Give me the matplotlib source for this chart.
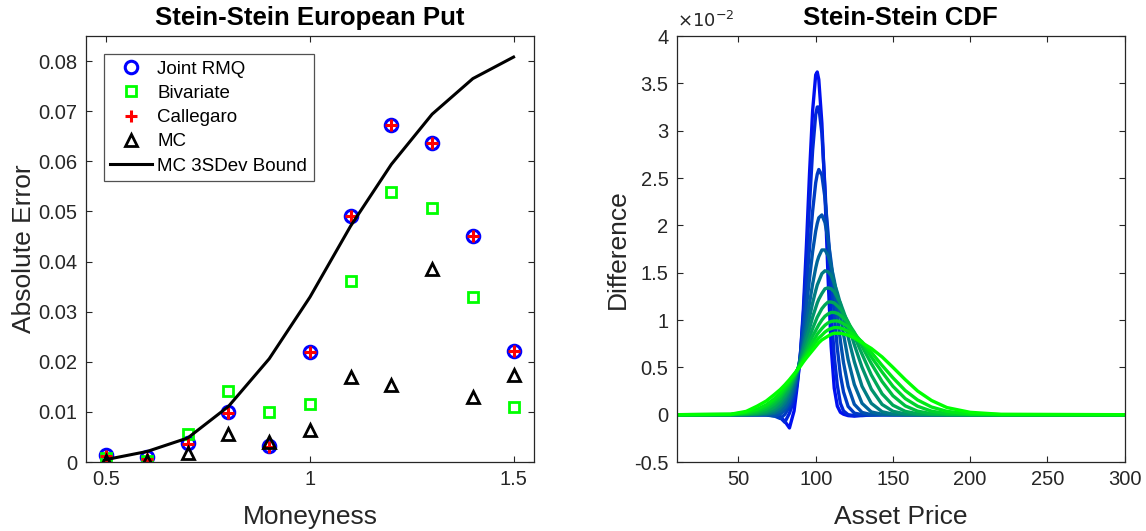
import matplotlib.pyplot as plt
import numpy as np

# ---- left panel: pricing errors against moneyness
moneyness = [0.5, 0.6, 0.7, 0.8, 0.9, 1.0, 1.1, 1.2, 1.3, 1.4, 1.5]
joint_rmq = [0.00146, 0.0011, 0.0037, 0.0100, 0.0031, 0.0219, 0.0490, 0.0672, 0.0637, 0.0451, 0.0222]
bivariate = [0.0008, 0.0002, 0.0055, 0.0141, 0.0100, 0.0116, 0.0362, 0.0538, 0.0506, 0.0329, 0.0110]
callegaro = [0.0013, 0.0007, 0.0035, 0.0098, 0.0030, 0.0219, 0.0490, 0.0672, 0.0637, 0.0451, 0.0222]
mc = [0.0003, 0.0003, 0.0019, 0.0056, 0.0039, 0.0063, 0.0169, 0.0153, 0.0385, 0.0129, 0.0174]
mc_bound = [0.0005, 0.0021, 0.0048, 0.0111, 0.0206, 0.0329, 0.0471, 0.0594, 0.0694, 0.0765, 0.0808]

# ---- right panel: CDF differences (units of 1e-2), one list per curve
asset_price = [10, 45, 55, 62, 68, 73, 77, 80, 83, 86, 88, 90, 92, 94, 96, 98, 100, 101, 102, 104,
               106, 108, 110, 112, 114, 116, 118, 121, 125, 130, 136, 143, 150, 158, 166, 175, 185, 200, 220, 300]
diff_01 = [0, 0, 0, 0, 0, 0, -0.02, -0.07, -0.14, 0.04, 0.30, 0.61, 1.11, 1.79, 2.55, 3.21, 3.59, 3.62, 3.54, 3.08,
           2.33, 1.45, 0.72, 0.28, 0.09, 0.025, 0.005, -0.01, -0.015, -0.005, 0, 0, 0, 0, 0, 0, 0, 0, 0, 0]
diff_02 = [0, 0, 0, 0, 0, -0.005, -0.03, -0.08, 0.015, 0.16, 0.33, 0.62, 1.05, 1.61, 2.23, 2.79, 3.17, 3.25, 3.25, 2.97,
           2.40, 1.72, 1.09, 0.62, 0.31, 0.12, 0.04, 0.0, -0.01, -0.01, -0.003, 0, 0, 0, 0, 0, 0, 0, 0, 0]
diff_03 = [0, 0, 0, 0, 0, -0.012, -0.04, 0.003, 0.08, 0.215, 0.38, 0.62, 0.95, 1.34, 1.76, 2.15, 2.45, 2.54, 2.59, 2.53,
           2.29, 1.92, 1.48, 1.06, 0.70, 0.42, 0.24, 0.087, 0.017, 0, -0.003, 0, 0, 0, 0, 0, 0, 0, 0, 0]
diff_04 = [0, 0, 0, 0, -0.003, -0.015, 0.006, 0.049, 0.12, 0.26, 0.41, 0.61, 0.86, 1.14, 1.44, 1.72, 1.94, 2.02, 2.08, 2.11,
           2.03, 1.85, 1.61, 1.33, 1.04, 0.78, 0.55, 0.30, 0.11, 0.024, 0, 0, 0, 0, 0, 0, 0, 0, 0, 0]
diff_05 = [0, 0, 0, 0, 0.002, 0.012, 0.037, 0.082, 0.16, 0.30, 0.42, 0.58, 0.76, 0.97, 1.18, 1.38, 1.55, 1.62, 1.67, 1.74,
           1.74, 1.68, 1.57, 1.42, 1.24, 1.04, 0.85, 0.58, 0.32, 0.12, 0.029, 0.004, 0, 0, 0, 0, 0, 0, 0, 0]
diff_06 = [0, 0, 0, 0.001, 0.008, 0.028, 0.069, 0.125, 0.21, 0.34, 0.45, 0.58, 0.72, 0.87, 1.03, 1.18, 1.31, 1.37, 1.41, 1.49,
           1.52, 1.51, 1.47, 1.39, 1.29, 1.17, 1.03, 0.82, 0.56, 0.30, 0.12, 0.031, 0.006, 0, 0, 0, 0, 0, 0, 0]
diff_07 = [0, 0, 0.001, 0.005, 0.019, 0.051, 0.10, 0.166, 0.25, 0.37, 0.46, 0.57, 0.68, 0.80, 0.91, 1.03, 1.13, 1.18, 1.22, 1.28,
           1.33, 1.34, 1.33, 1.30, 1.24, 1.18, 1.09, 0.95, 0.74, 0.50, 0.27, 0.108, 0.036, 0.008, 0.001, 0, 0, 0, 0, 0]
diff_08 = [0, 0, 0.003, 0.012, 0.035, 0.077, 0.136, 0.20, 0.28, 0.38, 0.46, 0.545, 0.63, 0.73, 0.82, 0.91, 0.99, 1.03, 1.06, 1.12,
           1.16, 1.19, 1.19, 1.18, 1.15, 1.12, 1.07, 0.98, 0.83, 0.64, 0.42, 0.22, 0.10, 0.035, 0.010, 0.002, 0, 0, 0, 0]
diff_09 = [0, 0.001, 0.008, 0.024, 0.058, 0.11, 0.17, 0.24, 0.31, 0.40, 0.47, 0.54, 0.61, 0.68, 0.76, 0.83, 0.89, 0.92, 0.95, 1.00,
           1.04, 1.065, 1.08, 1.08, 1.07, 1.05, 1.02, 0.97, 0.87, 0.72, 0.54, 0.35, 0.20, 0.093, 0.037, 0.011, 0.002, 0, 0, 0]
diff_10 = [0, 0.002, 0.015, 0.040, 0.082, 0.14, 0.20, 0.265, 0.335, 0.41, 0.47, 0.53, 0.59, 0.65, 0.71, 0.77, 0.82, 0.85, 0.87, 0.91,
           0.945, 0.97, 0.985, 0.99, 0.99, 0.98, 0.96, 0.93, 0.86, 0.76, 0.61, 0.45, 0.30, 0.17, 0.089, 0.037, 0.012, 0.002, 0, 0]
diff_11 = [0, 0.003, 0.025, 0.057, 0.105, 0.166, 0.23, 0.29, 0.35, 0.42, 0.47, 0.52, 0.575, 0.625, 0.675, 0.72, 0.77, 0.79, 0.81, 0.84,
           0.873, 0.896, 0.91, 0.92, 0.92, 0.915, 0.905, 0.88, 0.84, 0.77, 0.66, 0.52, 0.39, 0.255, 0.155, 0.081, 0.035, 0.008, 0.001, 0]
diff_12 = [0, 0.005, 0.035, 0.09, 0.145, 0.21, 0.265, 0.315, 0.37, 0.43, 0.47, 0.51, 0.557, 0.60, 0.64, 0.68, 0.72, 0.74, 0.76, 0.79,
           0.81, 0.83, 0.85, 0.86, 0.86, 0.86, 0.853, 0.84, 0.81, 0.76, 0.70, 0.61, 0.50, 0.37, 0.25, 0.15, 0.075, 0.025, 0.004, 0]
cdf_diffs = [diff_01, diff_02, diff_03, diff_04, diff_05, diff_06,
             diff_07, diff_08, diff_09, diff_10, diff_11, diff_12]

plt.rcParams['font.family'] = ['Liberation Sans', 'DejaVu Sans']
plt.rcParams['axes.unicode_minus'] = False

AX_COL = (0.15, 0.15, 0.15)


def style_axes(ax):
    for sp in ax.spines.values():
        sp.set_color(AX_COL)
        sp.set_linewidth(0.9)
    ax.tick_params(direction='in', length=4, width=0.8, top=True, right=True,
                   colors=AX_COL, labelsize=14.5, labelcolor=AX_COL, pad=6)


fig = plt.figure(figsize=(11.46, 5.31), dpi=100)

# left panel
ax1 = fig.add_axes([0.0750, 0.1299, 0.3909, 0.8023])
ax1.plot(moneyness, joint_rmq, 'o', ls='none', mfc='none', mec='#0000ff', ms=9, mew=2.2, label='Joint RMQ')
ax1.plot(moneyness, bivariate, 's', ls='none', mfc='none', mec='#00ff00', ms=7.5, mew=2.0, label='Bivariate')
ax1.plot(moneyness, callegaro, '+', ls='none', color='#ff0000', ms=9, mew=2.2, label='Callegaro')
ax1.plot(moneyness, mc, '^', ls='none', mfc='none', mec='black', ms=9, mew=2.0, label='MC')
ax1.plot(moneyness, mc_bound, '-', color='black', lw=2.2, label='MC 3SDev Bound')
ax1.set_xlim(0.45, 1.55)
ax1.set_ylim(0, 0.085)
ax1.set_xticks([0.5, 1, 1.5])
ax1.set_xticklabels(['0.5', '1', '1.5'])
ax1.set_yticks([0, 0.01, 0.02, 0.03, 0.04, 0.05, 0.06, 0.07, 0.08])
ax1.set_yticklabels(['0', '0.01', '0.02', '0.03', '0.04', '0.05', '0.06', '0.07', '0.08'])
style_axes(ax1)
ax1.set_title('Stein-Stein European Put', fontsize=18.5, fontweight='bold', pad=8)
ax1.set_xlabel('Moneyness', fontsize=19, color=AX_COL, labelpad=11)
ax1.set_ylabel('Absolute Error', fontsize=19, color=AX_COL, labelpad=2)
leg = ax1.legend(loc='upper left', bbox_to_anchor=(0.04, 0.958), borderaxespad=0,
                 fontsize=13.5, frameon=True, fancybox=False, edgecolor=AX_COL,
                 handlelength=2.2, handletextpad=0.3, labelspacing=0.38, borderpad=0.35)
leg.get_frame().set_linewidth(0.9)

# right panel
ax2 = fig.add_axes([0.5905, 0.1299, 0.3908, 0.8023])
n = len(cdf_diffs)
for i, ys in enumerate(cdf_diffs):
    t = 0.06 + 0.94 * i / (n - 1)
    ax2.plot(asset_price, ys, '-', color=(0, t, 1 - t), lw=2.4)
ax2.set_xlim(10, 300)
ax2.set_ylim(-0.5, 4)
ax2.set_xticks([50, 100, 150, 200, 250, 300])
ax2.set_yticks([-0.5, 0, 0.5, 1, 1.5, 2, 2.5, 3, 3.5, 4])
ax2.set_yticklabels(['-0.5', '0', '0.5', '1', '1.5', '2', '2.5', '3', '3.5', '4'])
style_axes(ax2)
ax2.text(0.0, 1.012, r'$\times10^{-2}$', transform=ax2.transAxes, fontsize=13,
         color=AX_COL, ha='left', va='bottom')
ax2.set_title('Stein-Stein CDF', fontsize=18.5, fontweight='bold', pad=8)
ax2.set_xlabel('Asset Price', fontsize=19, color=AX_COL, labelpad=11)
ax2.set_ylabel('Difference', fontsize=19, color=AX_COL, labelpad=3)

fig.savefig('out.png', dpi=100)
